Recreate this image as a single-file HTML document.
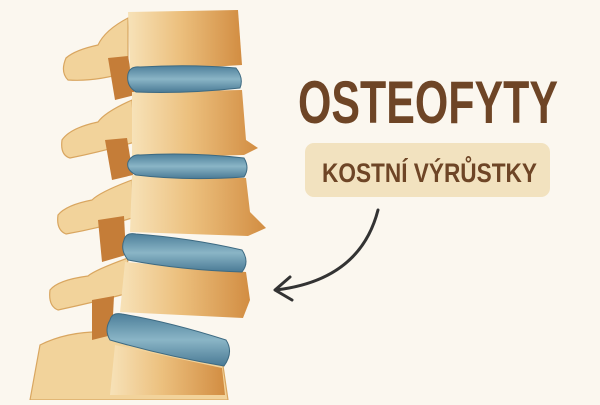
<!DOCTYPE html><html><head><style>html,body{margin:0;padding:0;background:#fbf7ef}</style></head><body>
<svg width="600" height="400" viewBox="0 0 600 400" xmlns="http://www.w3.org/2000/svg">
<defs>
<linearGradient id="b" x1="0" x2="1"><stop offset="0" stop-color="#f7e2b8"/><stop offset=".45" stop-color="#ecc07e"/><stop offset="1" stop-color="#d28d42"/></linearGradient>
<linearGradient id="d" x1="0" x2="0" y1="0" y2="1"><stop offset="0" stop-color="#4d7f9a"/><stop offset=".5" stop-color="#8ab5c6"/><stop offset="1" stop-color="#4a7a95"/></linearGradient>
</defs>
<rect width="600" height="400" fill="#fbf7ef"/>
<g fill="#f2d39b" stroke="#d9a660" stroke-width="1.2">
<path d="M128 18 Q105 30 98 45 Q75 50 66 58 Q60 72 68 80 Q95 82 128 72 Z"/>
<path d="M132 100 Q105 112 98 122 Q70 128 62 140 Q60 155 70 158 Q100 152 135 142 Z"/>
<path d="M132 180 Q100 192 92 200 Q66 205 58 215 Q56 230 66 234 Q100 228 132 218 Z"/>
<path d="M128 258 Q95 270 88 276 Q58 280 50 290 Q48 306 58 310 Q95 302 125 294 Z"/>
<path d="M40 345 Q70 330 110 332 L220 345 L228 400 L30 400 Z"/>
</g>
<g fill="#c57d38"><path d="M108 58 L128 56 L135 95 L115 100 Z"/><path d="M105 140 L127 138 L133 175 L112 180 Z"/><path d="M98 220 L124 216 L126 255 L102 262 Z"/><path d="M92 300 L114 296 L112 335 L92 340 Z"/></g>
<g fill="url(#b)">
<path d="M128 12 L238 10 L242 65 L130 72 Z"/>
<path d="M132 92 L242 90 L246 140 L258 148 L244 155 L132 158 Z"/>
<path d="M132 175 L246 178 L250 212 L266 228 L248 236 L130 232 Z"/>
<path d="M125 262 L246 272 L250 300 L243 318 L120 312 Z"/>
<path d="M115 345 L222 368 L225 395 L110 395 Z"/>
</g>
<g fill="url(#d)" stroke="#3d6a82" stroke-width="1">
<path d="M128 74 Q130 66 140 67 Q190 64 236 68 Q244 78 240 88 Q185 94 136 92 Q126 86 128 74 Z"/>
<path d="M128 162 Q132 154 140 155 Q190 152 244 158 Q250 168 244 177 Q185 181 136 175 Q126 170 128 162 Z"/>
<path d="M124 240 Q126 232 136 234 Q190 238 242 250 Q250 262 242 272 Q180 270 128 260 Q120 250 124 240 Z"/>
<path d="M110 320 Q112 312 122 314 Q170 322 226 340 Q234 352 224 366 Q165 356 110 340 Q104 330 110 320 Z"/>
</g>
<text x="298" y="123" font-family="Liberation Sans, sans-serif" font-weight="bold" font-size="60" fill="#6e4526" textLength="260" lengthAdjust="spacingAndGlyphs">OSTEOFYTY</text>
<rect x="305" y="143" width="245" height="54" rx="9" fill="#f2e2bf"/>
<text x="322" y="182" font-family="Liberation Sans, sans-serif" font-weight="bold" font-size="27" fill="#6e4526" textLength="215" lengthAdjust="spacingAndGlyphs">KOSTNÍ VÝRŮSTKY</text>
<path d="M378 210 Q360 280 276 290" fill="none" stroke="#333" stroke-width="3" stroke-linecap="round"/>
<path d="M290 277 L275 290 L292 300" fill="none" stroke="#333" stroke-width="3" stroke-linecap="round" stroke-linejoin="round"/>
</svg>
</body></html>
